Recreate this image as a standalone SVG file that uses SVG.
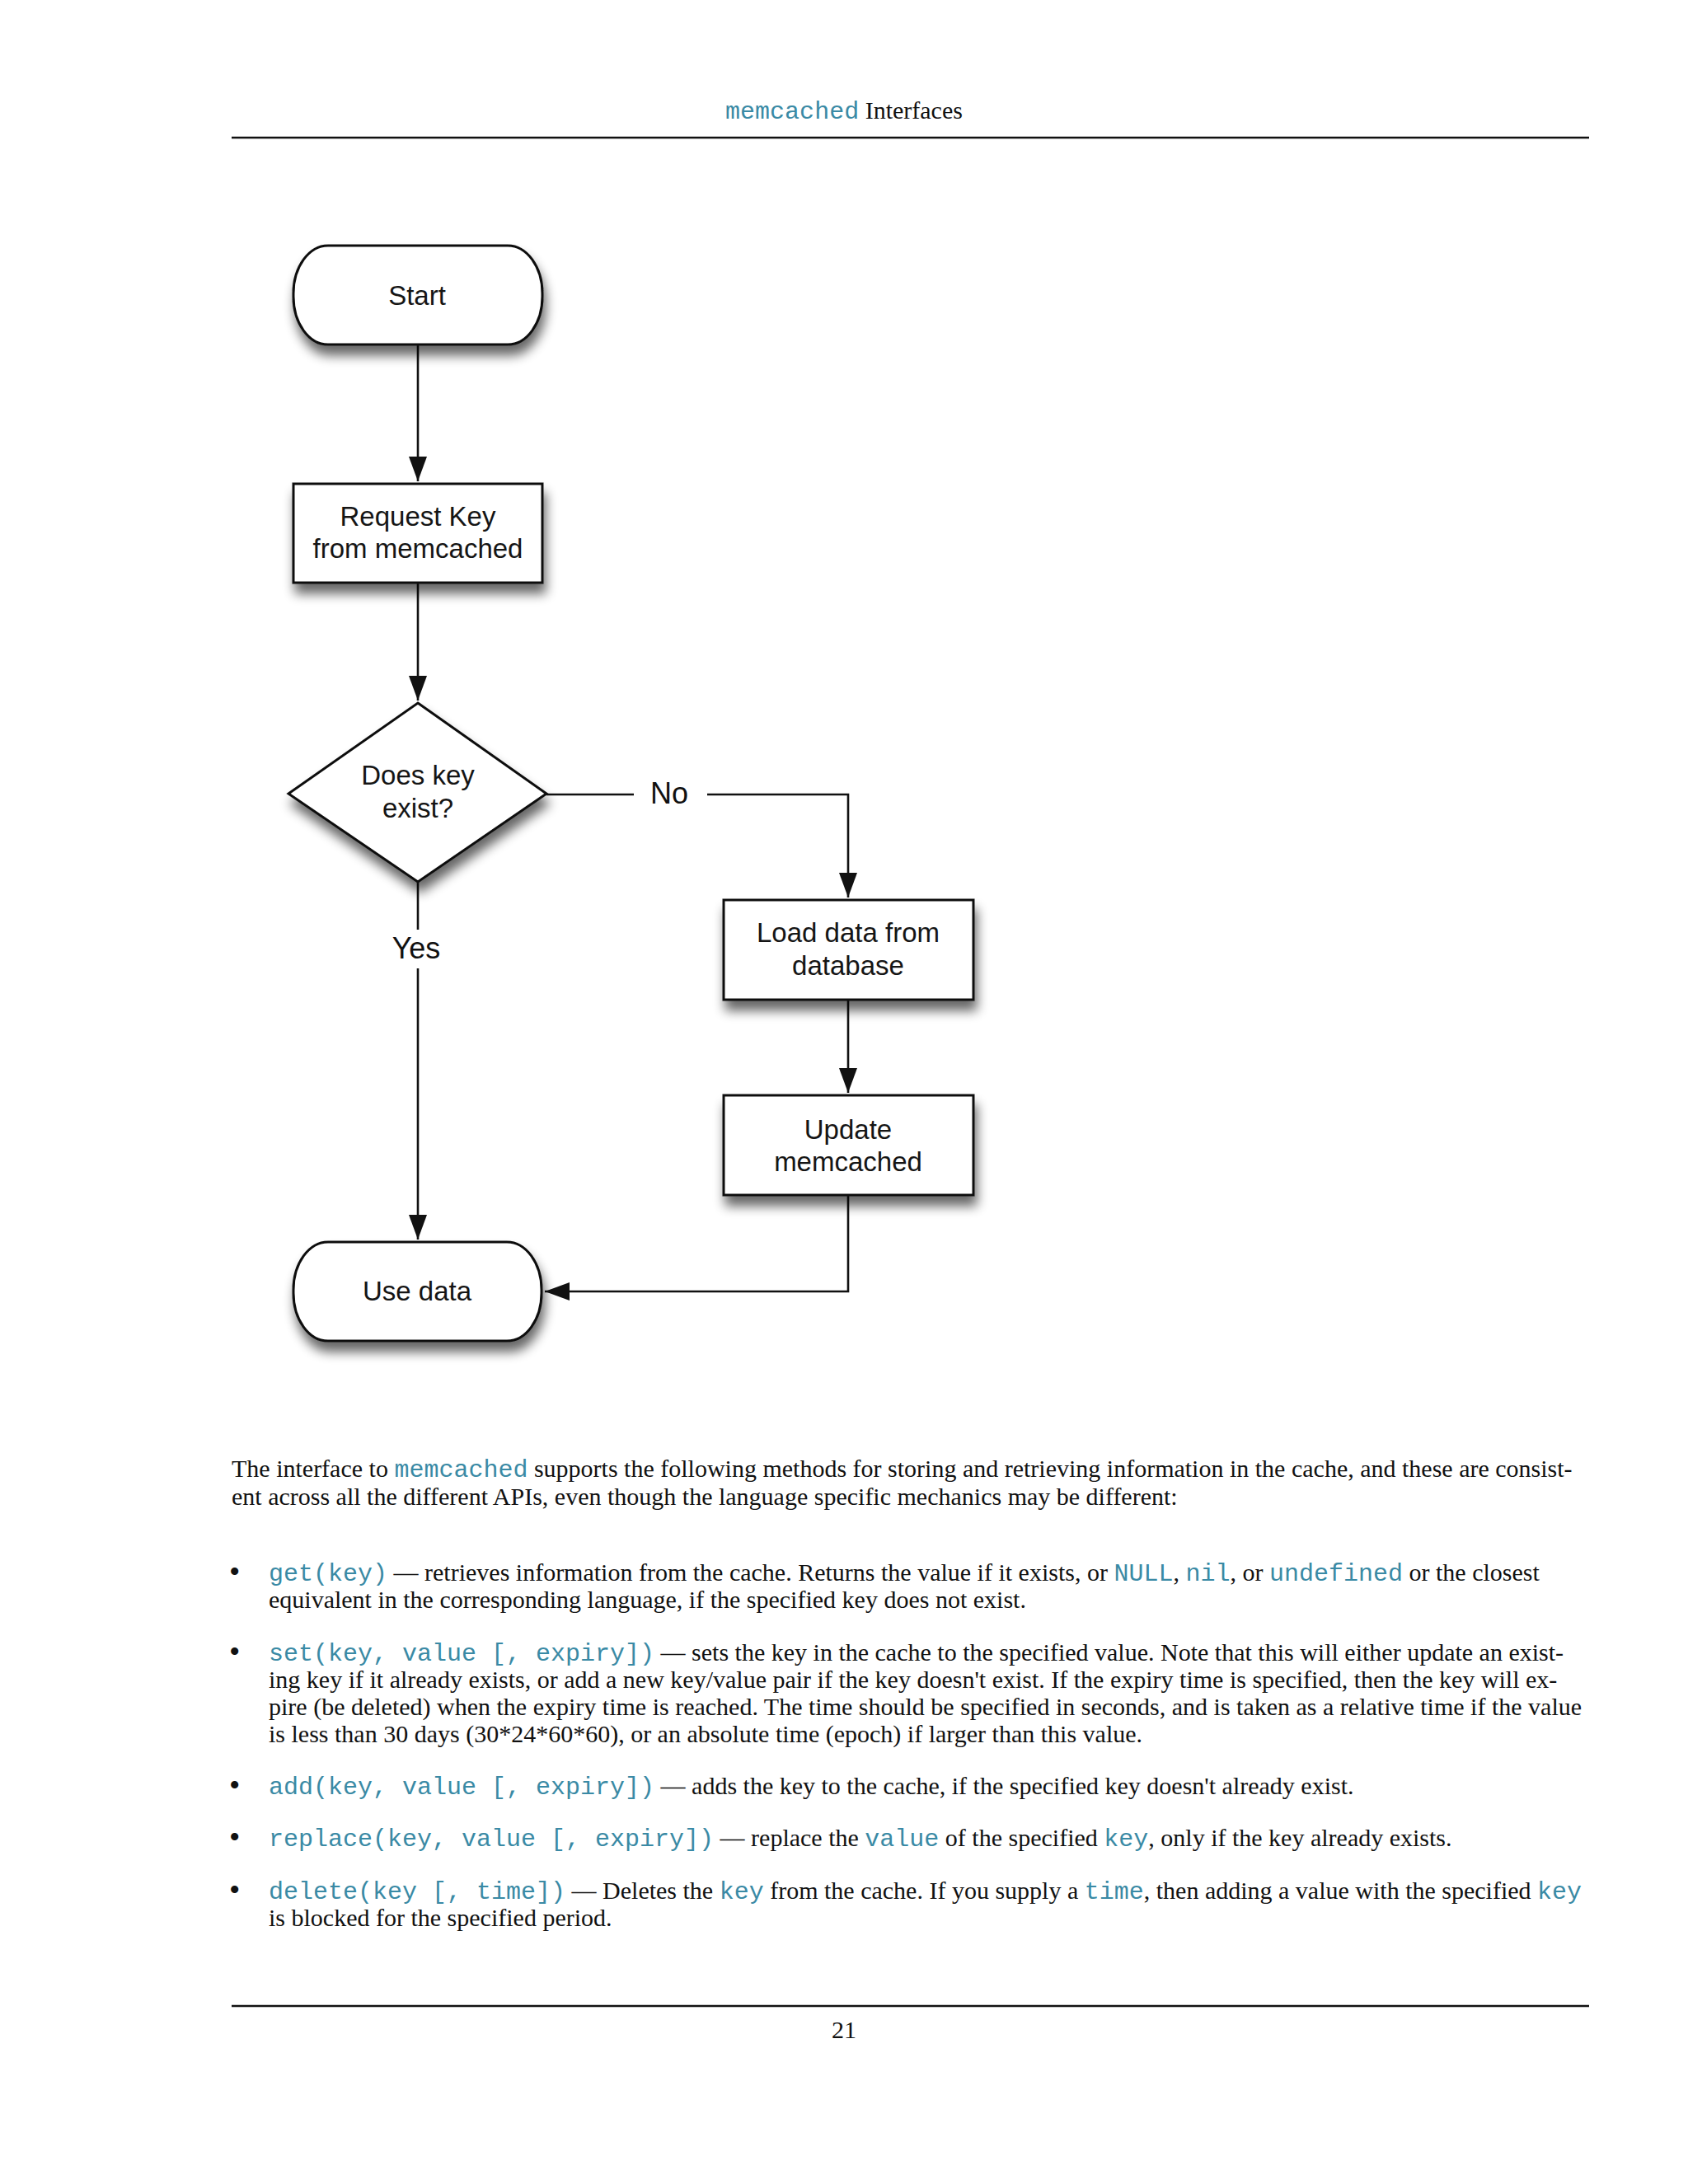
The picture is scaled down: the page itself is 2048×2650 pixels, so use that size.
<svg xmlns="http://www.w3.org/2000/svg" width="2048" height="2650" viewBox="0 0 2048 2650">
<style>
.node{fill:#fff;stroke:#111;stroke-width:3}
.nt{font-family:"Liberation Sans",Arial,sans-serif;font-size:33px;fill:#151515;text-anchor:middle}
.lbl{font-family:"Liberation Sans",Arial,sans-serif;font-size:36px;fill:#111;text-anchor:middle}
.conn{fill:none;stroke:#111;stroke-width:2.6}
.body{font-family:"Liberation Serif","Times New Roman",serif;font-size:30px;fill:#111}
.code{font-family:"Liberation Mono","Courier New",monospace;fill:#3a8aa5}
.bul{font-family:"Liberation Serif","Times New Roman",serif;font-size:38px;fill:#111}
.rule{stroke:#111;stroke-width:2.6}
</style>
<defs>
<filter id="sh" x="-20%" y="-20%" width="150%" height="160%">
<feGaussianBlur in="SourceAlpha" stdDeviation="7"/>
<feOffset dx="3" dy="12"/>
<feComponentTransfer><feFuncA type="linear" slope="0.6"/></feComponentTransfer>
<feMerge><feMergeNode/><feMergeNode in="SourceGraphic"/></feMerge>
</filter>
<marker id="ah" markerUnits="userSpaceOnUse" markerWidth="30" markerHeight="22" refX="30" refY="11" orient="auto">
<path d="M0,0 L30,11 L0,22 z" fill="#111"/>
</marker>
</defs>
<rect width="2048" height="2650" fill="#fff"/>

<g id="header">
<text x="1024" y="144" class="body" text-anchor="middle"><tspan class="code">memcached</tspan> Interfaces</text>
<line x1="281" y1="167" x2="1928" y2="167" class="rule"/>
</g>

<g id="connectors">
<path class="conn" d="M507,418 V584" marker-end="url(#ah)"/>
<path class="conn" d="M507,707 V850" marker-end="url(#ah)"/>
<path class="conn" d="M663,964 H769"/>
<path class="conn" d="M858,964 H1029 V1089" marker-end="url(#ah)"/>
<path class="conn" d="M1029,1213 V1326" marker-end="url(#ah)"/>
<path class="conn" d="M507,1070 V1128"/>
<path class="conn" d="M507,1175 V1504" marker-end="url(#ah)"/>
<path class="conn" d="M1029,1450 V1567 H661" marker-end="url(#ah)"/>
<text class="lbl" x="812" y="975">No</text>
<text class="lbl" x="505" y="1163">Yes</text>
</g>

<g id="start">
<rect class="node" x="356" y="298" width="302" height="120" rx="42" ry="58" filter="url(#sh)"/>
<text class="nt" x="506" y="370">Start</text>
</g>
<g id="request">
<rect class="node" x="356" y="587" width="302" height="120" filter="url(#sh)"/>
<text class="nt" x="507" y="638">Request Key</text>
<text class="nt" x="507" y="677">from memcached</text>
</g>
<g id="decision">
<polygon class="node" points="507,853 663,963 507,1070 350,963" filter="url(#sh)"/>
<text class="nt" x="507" y="952">Does key</text>
<text class="nt" x="507" y="992">exist?</text>
</g>
<g id="load">
<rect class="node" x="878" y="1092" width="303" height="121" filter="url(#sh)"/>
<text class="nt" x="1029" y="1143">Load data from</text>
<text class="nt" x="1029" y="1183">database</text>
</g>
<g id="update">
<rect class="node" x="878" y="1329" width="303" height="121" filter="url(#sh)"/>
<text class="nt" x="1029" y="1382">Update</text>
<text class="nt" x="1029" y="1421">memcached</text>
</g>
<g id="usedata">
<rect class="node" x="356" y="1507" width="301" height="120" rx="42" ry="58" filter="url(#sh)"/>
<text class="nt" x="506" y="1578">Use data</text>
</g>

<g id="text">
<text class="body" x="281" y="1792">The interface to <tspan class="code">memcached</tspan> supports the following methods for storing and retrieving information in the cache, and these are consist-</text>
<text class="body" x="281" y="1826">ent across all the different APIs, even though the language specific mechanics may be different:</text>

<text class="bul" x="278" y="1920">•</text>
<text class="body" x="326" y="1918"><tspan class="code">get(key)</tspan> — retrieves information from the cache. Returns the value if it exists, or <tspan class="code">NULL</tspan>, <tspan class="code">nil</tspan>, or <tspan class="code">undefined</tspan> or the closest</text>
<text class="body" x="326" y="1951">equivalent in the corresponding language, if the specified key does not exist.</text>

<text class="bul" x="278" y="2017">•</text>
<text class="body" x="326" y="2015"><tspan class="code">set(key, value [, expiry])</tspan> — sets the key in the cache to the specified value. Note that this will either update an exist-</text>
<text class="body" x="326" y="2048">ing key if it already exists, or add a new key/value pair if the key doesn't exist. If the expiry time is specified, then the key will ex-</text>
<text class="body" x="326" y="2081">pire (be deleted) when the expiry time is reached. The time should be specified in seconds, and is taken as a relative time if the value</text>
<text class="body" x="326" y="2114">is less than 30 days (30*24*60*60), or an absolute time (epoch) if larger than this value.</text>

<text class="bul" x="278" y="2179">•</text>
<text class="body" x="326" y="2177"><tspan class="code">add(key, value [, expiry])</tspan> — adds the key to the cache, if the specified key doesn't already exist.</text>

<text class="bul" x="278" y="2242">•</text>
<text class="body" x="326" y="2240"><tspan class="code">replace(key, value [, expiry])</tspan> — replace the <tspan class="code">value</tspan> of the specified <tspan class="code">key</tspan>, only if the key already exists.</text>

<text class="bul" x="278" y="2306">•</text>
<text class="body" x="326" y="2304"><tspan class="code">delete(key [, time])</tspan> — Deletes the <tspan class="code">key</tspan> from the cache. If you supply a <tspan class="code">time</tspan>, then adding a value with the specified <tspan class="code">key</tspan></text>
<text class="body" x="326" y="2337">is blocked for the specified period.</text>
</g>

<g id="footer">
<line x1="281" y1="2434" x2="1928" y2="2434" class="rule"/>
<text class="body" x="1024" y="2473" text-anchor="middle">21</text>
</g>
</svg>
